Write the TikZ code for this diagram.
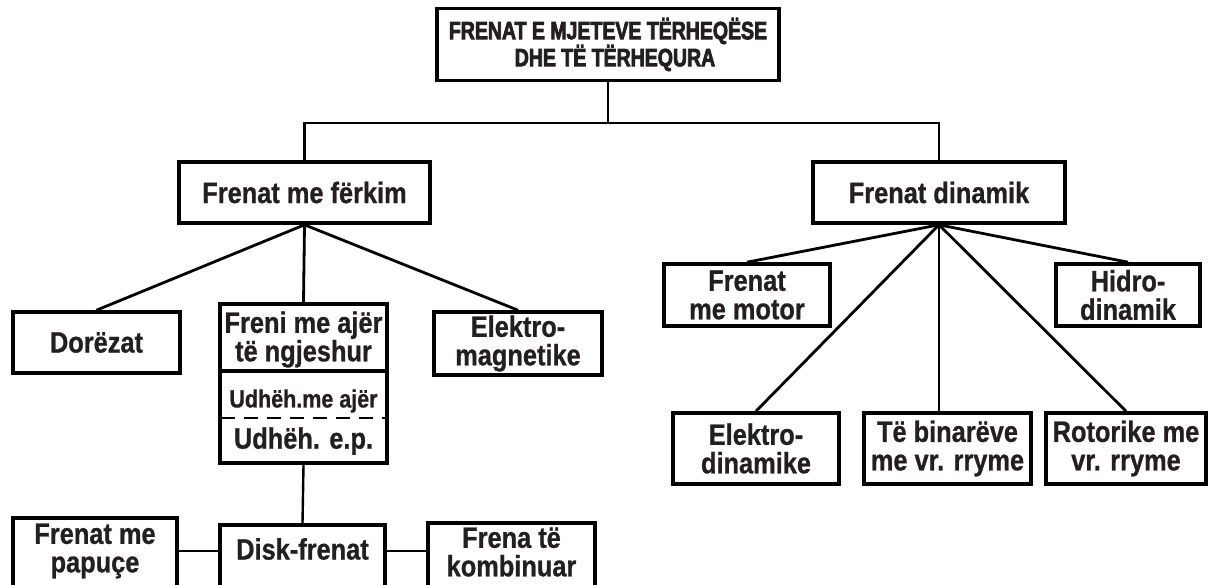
\documentclass[tikz,border=0pt]{standalone}
\usepackage{fontspec}
\setmainfont{Liberation Sans}[FakeStretch=0.86,FakeBold=0.8]
\newfontfamily\headfont{Liberation Sans}[FakeStretch=0.78,FakeBold=3]
\definecolor{txt}{RGB}{35,31,32}
\tikzset{
  box/.style={draw=black, line width=3.6pt, inner sep=0pt, align=center, text=txt,
    font=\bfseries\fontsize{29.5}{28.5}\selectfont},
  lbl/.style={inner sep=0pt, align=center, text=txt, font=\bfseries\fontsize{29.5}{28.5}\selectfont},
  link/.style={line width=2.4pt},
  fan/.style={line width=2.8pt},
}
\begin{document}
\begin{tikzpicture}[x=1pt,y=-1pt]
\useasboundingbox (0,0) rectangle (1208,584);
\clip (0,0) rectangle (1208,584);
\fill[white] (0,0) rectangle (1208,584);

% top
\node[box, minimum width=342pt, minimum height=72pt,
  font=\headfont\bfseries\fontsize{25}{27}\selectfont] (root) at (608,44.5)
  {FRENAT E MJETEVE TËRHEQËSE\\\hspace*{14pt}DHE TË TËRHEQURA};
\node[box, minimum width=251pt, minimum height=61pt] (ferkim) at (304.5,192.5) {Frenat me fërkim};
\node[box, minimum width=252pt, minimum height=61pt] (dinamik) at (939,192.5) {Frenat dinamik};

\coordinate (bus) at (0,123);
\draw[link] (root.south) -- (root.south |- bus);
\draw[link] (ferkim.north) |- (bus -| dinamik.north) -- (dinamik.north);

% friction branch
\node[box, minimum width=167pt, minimum height=61pt] (dor) at (96.5,342.5) {Dorëzat};
\node[box, minimum width=167pt, minimum height=159pt] (freni) at (303.5,383.5) {};
\node[lbl] (freni1) at (303.5,339.5) {Freni me ajër\\të ngjeshur};
\node[lbl, font=\bfseries\fontsize{25}{26}\selectfont] (udh1) at (303.5,401) {Udhëh.me ajër};
\node[lbl] (udh2) at (303.5,441) {Udhëh. e.p.};
\draw[line width=3.4pt] (freni.west |- 0,371) -- (freni.east |- 0,371);
\draw[line width=2pt, dash pattern=on 14pt off 9pt] ([xshift=3pt]freni.west |- 0,418) -- ([xshift=-2pt]freni.east |- 0,418);
\node[box, minimum width=168pt, minimum height=63pt] (elmag) at (518,343.5) {Elektro-\\magnetike};

\draw[fan] (ferkim.south) -- (dor.north);
\draw[fan] (ferkim.south) -- (freni.north);
\draw[fan] (ferkim.south) -- (elmag.north);

% bottom row
\coordinate (bl) at (0,551);
\node[box, minimum width=164pt, minimum height=78pt] (papuce) at (95,557) {};
\node[lbl] (papucet) at (95,551) {Frenat me\\papuçe};
\node[box, minimum width=165pt, minimum height=71pt] (disk) at (302.5,560.5) {};
\node[lbl] (diskt) at (302.5,549) {Disk-frenat};
\node[box, minimum width=167pt, minimum height=73pt] (frena) at (511.5,559.5) {};
\node[lbl] (frenat) at (511.5,552) {Frena të\\kombinuar};
\draw[link] (freni.south) -- (disk.north);
\draw[link] (papuce.east |- bl) -- (disk.west |- bl);
\draw[link] (disk.east |- bl) -- (frena.west |- bl);

% dynamic branch
\node[box, minimum width=166pt, minimum height=62pt] (motor) at (747,295) {Frenat\\me motor};
\node[box, minimum width=144pt, minimum height=62pt] (hidro) at (1128,295) {Hidro-\\dinamik};
\node[box, minimum width=166pt, minimum height=71pt] (eldin) at (756,448.5) {Elektro-\\dinamike};
\node[box, minimum width=167pt, minimum height=71pt] (bin) at (947.5,448.5) {Të binarëve\\me vr. rryme};
\node[box, minimum width=160pt, minimum height=71pt] (rot) at (1126,448.5) {Rotorike me\\vr. rryme};

\draw[fan] (dinamik.south) -- (motor.north);
\draw[fan] (dinamik.south) -- (hidro.north);
\draw[fan] (dinamik.south) -- (eldin.north);
\draw[fan] (dinamik.south) -- (dinamik.south |- bin.north);
\draw[fan] (dinamik.south) -- (rot.north);
\end{tikzpicture}
\end{document}
